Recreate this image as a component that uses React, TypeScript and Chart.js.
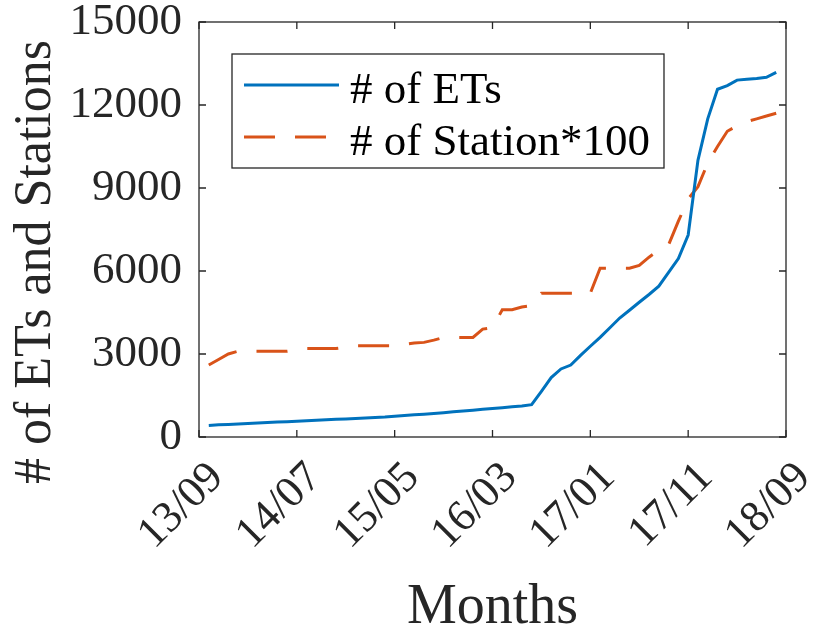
import { useEffect, useRef } from "react"
import { Chart, registerables } from "chart.js"
import type { Plugin } from "chart.js"

Chart.register(...registerables)

const FONT = "'Liberation Serif', 'Times New Roman', Tinos, 'DejaVu Serif', serif"
const AXIS_COLOR = "#262626"

// every month from 13/09 to 18/09 (yy/mm)
const months = [
  "13/09", "13/10", "13/11", "13/12",
  "14/01", "14/02", "14/03", "14/04", "14/05", "14/06", "14/07", "14/08", "14/09", "14/10", "14/11", "14/12",
  "15/01", "15/02", "15/03", "15/04", "15/05", "15/06", "15/07", "15/08", "15/09", "15/10", "15/11", "15/12",
  "16/01", "16/02", "16/03", "16/04", "16/05", "16/06", "16/07", "16/08", "16/09", "16/10", "16/11", "16/12",
  "17/01", "17/02", "17/03", "17/04", "17/05", "17/06", "17/07", "17/08", "17/09", "17/10", "17/11", "17/12",
  "18/01", "18/02", "18/03", "18/04", "18/05", "18/06", "18/07", "18/08", "18/09",
]

const xTickLabels = ["13/09", "14/07", "15/05", "16/03", "17/01", "17/11", "18/09"]
const yTicks = [0, 3000, 6000, 9000, 12000, 15000]

const etCounts = [
  null,
  420, 440, 455, 470, 490, 505, 520, 540, 555, 570,
  590, 605, 620, 640, 655, 670, 690, 705, 720, 750,
  780, 800, 825, 850, 880, 910, 940, 970, 1000, 1030,
  1060, 1090, 1120, 1170, 1650, 2150, 2460, 2600, 2950, 3280,
  3600, 3950, 4300, 4580, 4870, 5150, 5450, 5950, 6450, 7300,
  10000, 11500, 12570, 12700, 12900, 12930, 12960, 13000, 13180,
  null,
]

const stationsX100 = [
  null,
  2600, 2800, 3000, 3100, 3100, 3100, 3100, 3100, 3100, 3150,
  3200, 3200, 3200, 3200, 3250, 3300, 3300, 3300, 3300, 3300,
  3350, 3400, 3420, 3500, 3600, 3600, 3600, 3600, 3900, 3950,
  4600, 4600, 4700, 4750, 5200, 5200, 5200, 5200, 5200, 5200,
  6100, 6100, 6100, 6100, 6200, 6500, 6750, 6950, 7800, 8600,
  9050, 9900, 10500, 11050, 11250, 11400, 11500, 11600, 11700,
  null,
]

// MATLAB-style box: frame plus inward ticks on all four sides
const matlabBox: Plugin<"line"> = {
  id: "matlabBox",
  afterDatasetsDraw(chart) {
    const { ctx, chartArea, scales } = chart
    const { left, right, top, bottom } = chartArea
    const len = 7
    ctx.save()
    ctx.strokeStyle = AXIS_COLOR
    ctx.lineWidth = 1.3
    ctx.beginPath()
    xTickLabels.forEach((lbl) => {
      const px = scales.x.getPixelForValue(months.indexOf(lbl))
      ctx.moveTo(px, bottom)
      ctx.lineTo(px, bottom - len)
      ctx.moveTo(px, top)
      ctx.lineTo(px, top + len)
    })
    yTicks.forEach((v) => {
      const py = scales.y.getPixelForValue(v)
      ctx.moveTo(left, py)
      ctx.lineTo(left + len, py)
      ctx.moveTo(right, py)
      ctx.lineTo(right - len, py)
    })
    ctx.stroke()
    ctx.strokeRect(left, top, right - left, bottom - top)
    ctx.restore()
  },
}

// boxed legend sitting inside the axes
const boxLegend: Plugin<"line"> = {
  id: "boxLegend",
  afterDraw(chart) {
    const { ctx, chartArea } = chart
    const sets = chart.data.datasets as any[]
    const x0 = chartArea.left + 33
    const y0 = chartArea.top + 32
    ctx.save()
    ctx.font = `45px ${FONT}`
    const textW = Math.max(...sets.map((d) => ctx.measureText(d.label ?? "").width))
    const w = 118 + textW + 14
    const h = 114
    ctx.fillStyle = "#fff"
    ctx.fillRect(x0, y0, w, h)
    ctx.strokeStyle = AXIS_COLOR
    ctx.lineWidth = 1.3
    ctx.strokeRect(x0, y0, w, h)
    sets.forEach((d, i) => {
      const cy = y0 + 31 + i * 52
      ctx.beginPath()
      ctx.setLineDash(d.borderDash ?? [])
      ctx.strokeStyle = d.borderColor
      ctx.lineWidth = d.borderWidth
      ctx.moveTo(x0 + 12, cy)
      ctx.lineTo(x0 + 107, cy)
      ctx.stroke()
      ctx.setLineDash([])
      ctx.fillStyle = "#000"
      ctx.textBaseline = "alphabetic"
      ctx.fillText(d.label, x0 + 118, cy + 18)
    })
    ctx.restore()
  },
}

function buildChart(canvas: HTMLCanvasElement) {
  return new Chart(canvas, {
    type: "line",
    data: {
      labels: months,
      datasets: [
        {
          label: "# of ETs",
          data: etCounts,
          borderColor: "#0072BD",
          borderWidth: 3,
          pointRadius: 0,
          tension: 0,
          fill: false,
        },
        {
          label: "# of Station*100",
          data: stationsX100,
          borderColor: "#D95319",
          borderWidth: 3,
          borderDash: [31, 20],
          pointRadius: 0,
          tension: 0,
          fill: false,
        },
      ],
    },
    options: {
      responsive: true,
      maintainAspectRatio: false,
      animation: false,
      layout: { padding: { top: 22, right: 44, left: 0, bottom: 0 } },
      plugins: {
        legend: { display: false },
        tooltip: { enabled: false },
      },
      scales: {
        x: {
          type: "category",
          offset: false,
          grid: { display: false, drawTicks: false },
          border: { display: false },
          afterFit: (scale) => {
            scale.height = 202
            scale.paddingLeft = 0
            scale.paddingRight = 0
          },
          ticks: {
            autoSkip: false,
            minRotation: 45,
            maxRotation: 45,
            padding: 15,
            labelOffset: 18,
            color: AXIS_COLOR,
            font: { family: FONT, size: 44 },
            callback: (_v, i) => (xTickLabels.includes(months[i]) ? months[i] : ""),
          },
          title: {
            display: true,
            text: "Months",
            color: AXIS_COLOR,
            font: { family: FONT, size: 56, lineHeight: 1 },
            padding: { top: 0, bottom: 3 },
          },
        },
        y: {
          min: 0,
          max: 15000,
          grid: { display: false, drawTicks: false },
          border: { display: false },
          afterFit: (scale) => {
            scale.width = 199
            scale.paddingTop = 0
            scale.paddingBottom = 0
          },
          afterBuildTicks: (scale) => {
            scale.ticks = yTicks.map((value) => ({ value }))
          },
          ticks: {
            padding: 17,
            color: AXIS_COLOR,
            font: { family: FONT, size: 45 },
            callback: (v) => String(v),
          },
          title: {
            display: true,
            // trailing spaces push the rotated label a bit lower, as in the original
            text: "# of ETs and Stations     ",
            color: AXIS_COLOR,
            font: { family: FONT, size: 52, lineHeight: 1 },
            padding: { top: 10, bottom: 0 },
          },
        },
      },
    },
    plugins: [matlabBox, boxLegend],
  })
}

export default function App() {
  const canvasRef = useRef<HTMLCanvasElement>(null)
  const chartRef = useRef<Chart | null>(null)

  useEffect(() => {
    document.body.style.margin = "0"
    let cancelled = false

    // make sure the serif face is ready before the canvas draws text
    document.fonts.load(`44px 'Liberation Serif'`).finally(() => {
      if (cancelled || !canvasRef.current) return
      if (chartRef.current) chartRef.current.destroy()
      chartRef.current = buildChart(canvasRef.current)
    })

    return () => {
      cancelled = true
      if (chartRef.current) {
        chartRef.current.destroy()
        chartRef.current = null
      }
    }
  }, [])

  return (
    <div style={{ width: 830, height: 639, background: "#fff" }}>
      <canvas ref={canvasRef}></canvas>
    </div>
  )
}
